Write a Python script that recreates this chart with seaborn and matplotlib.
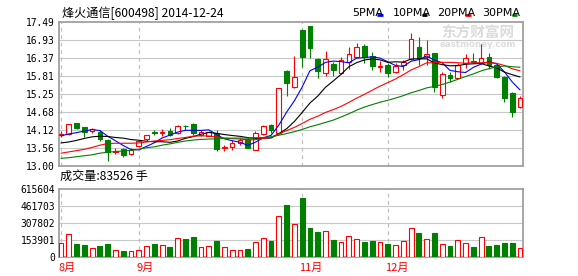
import numpy as np
import pandas as pd
import matplotlib
matplotlib.use("Agg")
import matplotlib.pyplot as plt
from matplotlib.lines import Line2D
from matplotlib import transforms
import seaborn as sns

# ---------------- data ----------------
title = "烽火通信[600498] 2014-12-24"
volume_caption = "成交量:83526 手"

opens = [13.96, 13.98, 14.32, 14.20, 14.07, 14.06, 13.81, 13.43, 13.51, 13.35,
         13.60, 13.83, 14.04, 14.02, 14.09, 14.03, 14.25, 14.30, 13.95, 13.94,
         14.02, 13.56, 13.57, 13.72, 13.84, 13.49, 13.98, 14.26, 14.02, 15.95,
         15.44, 17.23, 17.36, 16.32, 15.88, 16.16, 15.90, 16.24, 16.40, 16.74,
         16.42, 16.08, 16.14, 15.93, 16.14, 16.33, 16.69, 16.40, 16.50, 15.20,
         15.83, 15.75, 16.19, 16.26, 16.19, 16.38, 16.14, 15.78, 15.26, 14.84]
highs = [14.09, 14.31, 14.33, 14.22, 14.17, 14.12, 13.84, 13.55, 13.56, 13.55,
         13.80, 13.97, 14.12, 14.13, 14.16, 14.27, 14.28, 14.32, 14.12, 14.08,
         14.10, 13.65, 13.80, 13.86, 13.86, 14.09, 14.27, 14.30, 15.43, 15.97,
         16.43, 17.25, 17.37, 16.36, 16.58, 16.24, 16.40, 16.69, 16.84, 16.80,
         16.55, 16.25, 16.20, 16.20, 16.30, 17.13, 17.02, 16.92, 16.52, 15.93,
         15.93, 16.20, 16.47, 16.52, 16.81, 16.50, 16.16, 15.80, 15.30, 15.17]
lows = [13.90, 13.97, 14.15, 13.90, 14.03, 13.78, 13.14, 13.36, 13.26, 13.33,
        13.58, 13.78, 13.95, 13.93, 13.93, 14.00, 14.12, 13.97, 13.92, 13.92,
        13.46, 13.46, 13.48, 13.66, 13.54, 13.48, 13.96, 14.02, 14.00, 15.18,
        15.42, 16.08, 16.35, 15.75, 15.81, 15.80, 15.85, 16.00, 16.38, 16.19,
        15.98, 15.93, 15.76, 15.90, 15.98, 16.30, 16.14, 16.13, 15.31, 15.12,
        15.62, 15.72, 16.05, 16.20, 16.17, 16.02, 15.72, 14.99, 14.52, 14.80]
closes = [13.98, 14.30, 14.16, 14.06, 14.13, 13.83, 13.42, 13.45, 13.32, 13.50,
          13.78, 13.96, 14.02, 14.06, 13.95, 14.25, 14.24, 14.01, 14.05, 14.04,
          13.51, 13.58, 13.72, 13.81, 13.55, 14.01, 14.25, 14.11, 15.41, 15.57,
          15.78, 16.39, 16.66, 15.96, 16.32, 15.98, 16.30, 16.48, 16.69, 16.40,
          16.11, 16.10, 15.90, 16.11, 16.24, 16.94, 16.35, 16.47, 15.44, 15.85,
          15.75, 16.14, 16.35, 16.24, 16.36, 16.14, 15.77, 15.12, 14.67, 15.12]
volumes = [121900, 204200, 115800, 106700, 76200, 97500, 115800, 57900, 51800, 48800,
           57900, 94500, 115800, 103600, 88400, 167600, 161500, 179800, 85300, 94500,
           143200, 85300, 57900, 57900, 70100, 131000, 167600, 143200, 368700, 472400,
           295600, 536400, 262100, 225500, 231600, 152400, 131000, 185900, 158500, 134100,
           143200, 131000, 115800, 103600, 140200, 259000, 216400, 158500, 216400, 112800,
           97500, 149300, 121900, 88400, 176800, 97500, 106700, 124900, 124900, 83526]

# moving-average values at the start of the window (depend on earlier, unseen days)
ma5_head = [13.93, 13.99, 14.03, 14.08]
ma10_head = [13.71, 13.74, 13.79, 13.85, 13.90, 13.92, 13.91, 13.88, 13.86]
ma20_head = [13.39, 13.43, 13.47, 13.51, 13.57, 13.64, 13.69, 13.70, 13.70, 13.70,
             13.71, 13.74, 13.77, 13.79, 13.81, 13.85, 13.88, 13.92, 13.93]
ma30_head = [13.23, 13.25, 13.28, 13.31, 13.34, 13.39, 13.42, 13.44, 13.46, 13.48,
             13.51, 13.56, 13.59, 13.64, 13.68, 13.73, 13.77, 13.80, 13.82, 13.83,
             13.84, 13.85, 13.86, 13.86, 13.86, 13.87, 13.88, 13.90, 13.95]

ma_names = ["5PMA", "10PMA", "20PMA", "30PMA"]
ma_windows = [5, 10, 20, 30]

price_ticks = [13.00, 13.56, 14.12, 14.68, 15.25, 15.81, 16.37, 16.93, 17.49]
price_tick_labels = ["13.00", "13.56", "14.12", "14.68", "15.25", "15.81", "16.37", "16.93", "17.49"]
vol_ticks = [0, 153901, 307802, 461703, 615604]
vol_tick_labels = ["0", "153901", "307802", "461703", "615604"]

month_starts = [0, 10, 31, 42]
month_labels = ["8月", "9月", "11月", "12月"]

# ---------------- style ----------------
UP = "#ff0000"
DOWN = "#008000"
MA_COLORS = ["#0000ff", "#000000", "#ff0000", "#008000"]
SPINE = "#a0a0a0"
GRID = "#c8c8c8"

sns.set_theme(style="white")
plt.rcParams["font.family"] = ["Noto Sans CJK SC", "DejaVu Sans"]
plt.rcParams["axes.unicode_minus"] = False

W, H = 578, 276


def fx(px):
    return px / W


def fy(py):
    return 1 - py / H


fig = plt.figure(figsize=(W / 100, H / 100), dpi=100)
fig.patch.set_facecolor("white")

ax = fig.add_axes([fx(58.5), fy(165.7), 464 / W, 144 / H])
axv = fig.add_axes([fx(58.5), fy(256.7), 464 / W, 67.4 / H])

o = np.array(opens)
h = np.array(highs)
l = np.array(lows)
c = np.array(closes)
v = np.array(volumes)
n = len(c)
x = np.arange(n)
up = c >= o
col = np.where(up, UP, DOWN)
face = np.where(up, "white", DOWN)

# moving averages
close_s = pd.Series(c)
heads = [ma5_head, ma10_head, ma20_head, ma30_head]
mas = []
for w, head in zip(ma_windows, heads):
    m = close_s.rolling(w).mean().to_numpy()
    m[: len(head)] = head
    mas.append(m)

df = pd.DataFrame({"x": x})
for name, m in zip(ma_names, mas):
    df[name] = m

for a in (ax, axv):
    for s in a.spines.values():
        s.set_color(SPINE)
        s.set_linewidth(1.3)
    a.set_facecolor("white")
    a.set_xlim(-0.32, n - 1 + 0.32)
    a.tick_params(axis="both", length=0, pad=2.6, labelsize=6.9, colors="black")
    a.set_xticks([])
    a.grid(False)
    for m in month_starts:
        a.axvline(m, color="#c0c0c0", lw=0.9, ls=(0, (3, 3)), zorder=0.5)

# ---- price panel ----
ax.set_ylim(13.00, 17.49)
ax.set_yticks(price_ticks)
ax.set_yticklabels(price_tick_labels, family=["DejaVu Sans Mono"])
for t in price_ticks[1:-1]:
    ax.axhline(t, color=GRID, lw=0.8, zorder=0.4)

ax.vlines(x, l, h, colors=col, lw=0.8, zorder=3)
body = np.abs(c - o)
ax.bar(x, body, bottom=np.minimum(o, c), width=0.6, color=face,
       edgecolor=col, linewidth=0.8, zorder=4)

for name, colr in zip(ma_names, MA_COLORS):
    sns.lineplot(data=df, x="x", y=name, ax=ax, color=colr, lw=0.8,
                 estimator=None, sort=False, legend=False, zorder=5)
ax.set_xlabel("")
ax.set_ylabel("")

# watermark
ax.text(fx(478) , fy(32.5), "东方财富网", transform=fig.transFigure, ha="center",
        va="center", fontsize=10.5, color="#dcdcdc", fontweight="bold", zorder=0.3)
ax.text(fx(478), fy(44.5), "eastmoney.com", transform=fig.transFigure, ha="center",
        va="center", fontsize=6.2, color="#dcdcdc", fontweight="bold",
        family=["DejaVu Sans"], zorder=0.3)

# ---- volume panel ----
axv.set_ylim(0, 615604)
axv.set_yticks(vol_ticks)
axv.set_yticklabels(vol_tick_labels, family=["DejaVu Sans Mono"])
for t in vol_ticks[1:-1]:
    axv.axhline(t, color=GRID, lw=0.8, zorder=0.4)
axv.bar(x, v, width=0.62, color=face, edgecolor=col, linewidth=0.8, zorder=3)
axv.set_xlabel("")
axv.set_ylabel("")

trans = transforms.blended_transform_factory(axv.transData, axv.transAxes)
for m, lab in zip(month_starts, month_labels):
    axv.annotate(lab, xy=(m, 0), xycoords=trans, xytext=(-1.9, -7.8),
                 textcoords="offset points", ha="left", va="center",
                 fontsize=8, color="#ff0000")

# ---- header texts ----
fig.text(fx(61.5), fy(13.5), title, ha="left", va="center", fontsize=8.7, color="black")
fig.text(fx(60), fy(176.5), volume_caption, ha="left", va="center", fontsize=8.7,
         color="black")

legend_text_x = [351.7, 392.7, 436.7, 481.7]
legend_dash_x = [377.3, 421.7, 465.0, 511.7]
for name, colr, tx, dx in zip(ma_names, MA_COLORS, legend_text_x, legend_dash_x):
    fig.text(fx(tx), fy(13.4), name, ha="left", va="center", fontsize=8,
             family=["Liberation Sans Narrow", "DejaVu Sans"], color="black")
    fig.add_artist(Line2D([fx(dx), fx(dx + 5.5)], [fy(14.9), fy(14.9)],
                          transform=fig.transFigure, color=colr, lw=2.0,
                          solid_capstyle="butt"))

fig.savefig("out.png", dpi=100, facecolor="white")
